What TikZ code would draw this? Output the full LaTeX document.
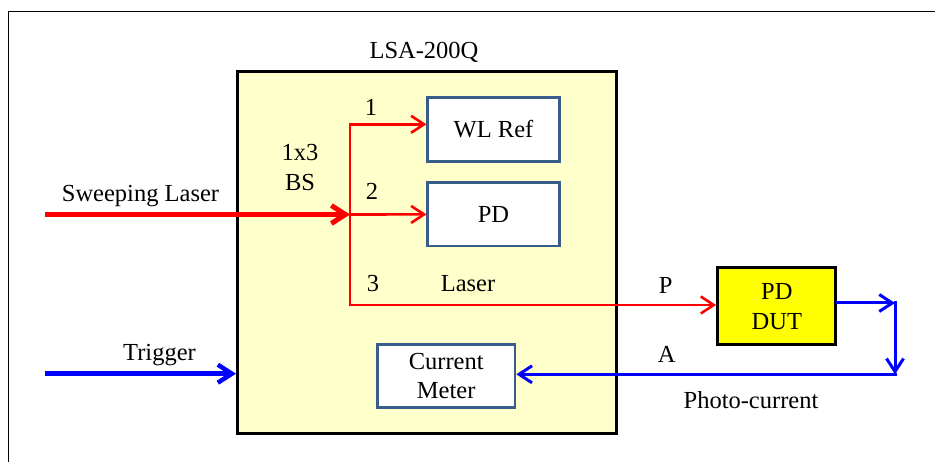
\documentclass[tikz,border=0pt]{standalone}
\usepackage{fontspec}
\setmainfont{Liberation Serif}
\usetikzlibrary{arrows.meta}
\definecolor{boxblue}{HTML}{385D8A}
\definecolor{lsafill}{HTML}{FFFFCC}
\definecolor{dutfill}{HTML}{FFFF00}
\begin{document}
\begin{tikzpicture}[x=1pt,y=-1pt,
  every node/.style={font=\fontsize{24.5}{29.7}\selectfont, inner sep=0pt},
  lbl/.style={anchor=base},
  lsabox/.style={draw=black, line width=3pt, fill=lsafill, rectangle},
  innerbox/.style={draw=boxblue, line width=2.5pt, fill=white, rectangle, align=center},
  dutbox/.style={draw=black, line width=3pt, fill=dutfill, rectangle, align=center},
  tipthin/.style={-{Straight Barb[length=13pt,width=17pt]}},
  tipthick/.style={-{Straight Barb[length=14pt,width=18pt]}},
  redthin/.style={draw=red, line width=2.6pt, line cap=rect, line join=miter},
  redthick/.style={draw=red, line width=5pt},
  bluethin/.style={draw=blue, line width=3pt, line cap=rect, line join=miter},
  bluethick/.style={draw=blue, line width=4.5pt},
]
\useasboundingbox (0,0) rectangle (935,462);
\fill[white] (0,0) rectangle (935,462);
\clip (0,0) rectangle (935,462);
% outer frame (cropped)
\draw[line width=1.6pt] (8.3,480) -- (8.3,11.5) -- (950,11.5);

% boxes
\node[lsabox, minimum width=379pt, minimum height=362pt] (lsa) at (427,252.3) {};
\node[innerbox, minimum width=131.6pt, minimum height=64.4pt] (wl) at (493.5,129.5) {WL Ref};
\node[innerbox, minimum width=131.6pt, minimum height=63.5pt] (pd) at (493.5,214.4) {PD};
\node[innerbox, minimum width=137.7pt, minimum height=63.4pt] (cm) at (446.2,376) {Current\\Meter};
\node[dutbox, minimum width=118.3pt, minimum height=77.3pt] (dut) at (776.8,306.3) {PD\\DUT};

% coordinates
\coordinate (sls) at (45,214.5);
\coordinate (split) at (350,214.5);
\coordinate (br1) at (350,124.3);
\coordinate (br3) at (350,305);
\coordinate (trg) at (45,373.7);
\coordinate (c1) at (895,303);
\coordinate (c2) at (895,374.3);

% red optical paths
\draw[redthin, tipthin] (br3) -- (br1) -- (wl.west |- br1);
\draw[redthin, tipthin] (br3) -- (dut.west |- br3);
\draw[redthin, tipthin] (split) -- (pd.west);
\draw[redthick, tipthick] (sls) -- (split);

% blue electrical paths
\draw[bluethick, tipthick] (trg) -- (lsa.west |- trg);
\draw[bluethin, tipthin] (dut.east |- c1) -- (c1);
\draw[bluethin, tipthin] (c1) -- (c2);
\draw[bluethin, tipthin] (c2) -- (cm.east |- c2);

% labels
\node[lbl] (tlsa) at (424,58.3) {LSA-200Q};
\node[lbl] (t1) at (371,116) {1};
\node[lbl] (t1x3) at (300,161) {1x3};
\node[lbl] (tbs) at (300,190.7) {BS};
\node[lbl] (t2) at (372,199.3) {2};
\node[lbl] (tsl) at (140.5,201.7) {Sweeping Laser};
\node[lbl] (t3) at (373,291.7) {3};
\node[lbl] (tlas) at (468,291.7) {Laser};
\node[lbl] (tp) at (665.7,293.3) {P};
\node[lbl] (ta) at (666.7,362.7) {A};
\node[lbl] (tpc) at (751,409) {Photo-current};
\node[lbl] (ttr) at (159.5,360.7) {Trigger};
\end{tikzpicture}
\end{document}
